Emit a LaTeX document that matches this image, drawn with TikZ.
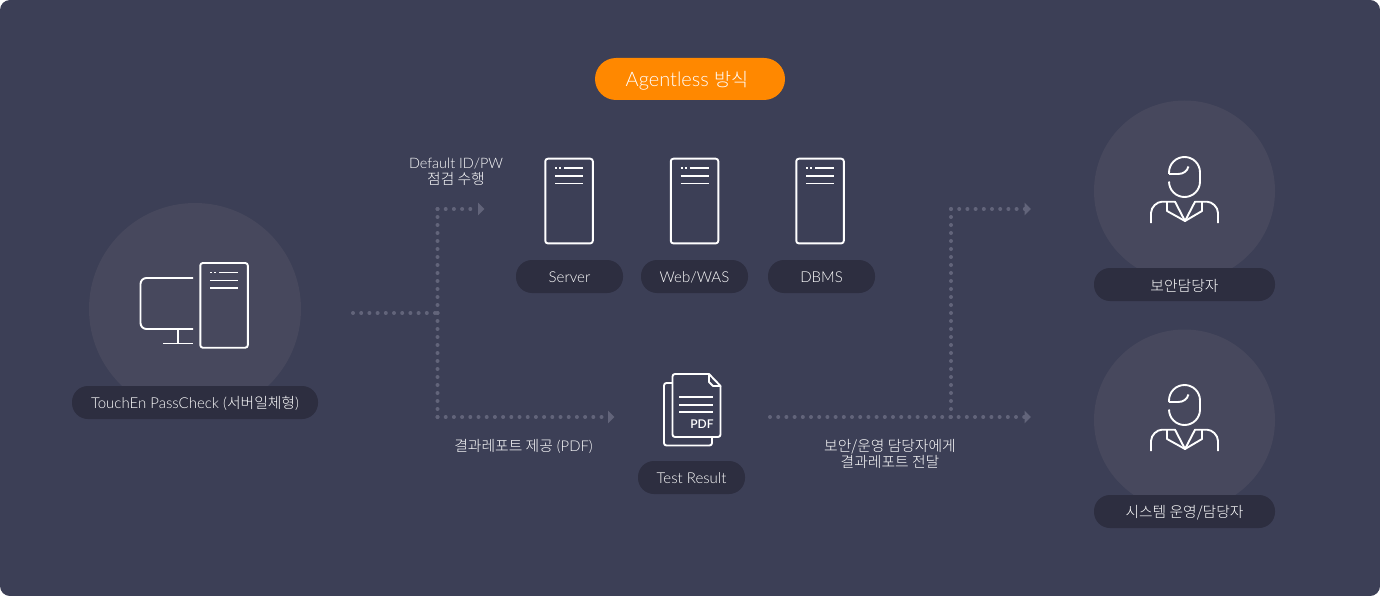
\documentclass[tikz,border=0pt]{standalone}
\usepackage{fontspec}
\usetikzlibrary{arrows.meta}
\setmainfont{Lato Light}
\newfontfamily\krfont{Noto Sans CJK KR Light}
\definecolor{bgc}{HTML}{3C3F56}
\definecolor{circc}{HTML}{47485D}
\definecolor{pillc}{HTML}{2D2E40}
\definecolor{dotc}{HTML}{62647A}
\definecolor{orangec}{HTML}{FF8800}
\newcommand{\lowertext}[2][1pt]{\raisebox{-#1}[\height][\depth]{#2}}
\tikzset{
  halo/.style={circle,fill=circc,draw=none,inner sep=0pt},
  pill/.style={rounded corners=16pt,fill=pillc,draw=none,inner sep=0pt,text=white,font=\fontsize{15}{17}\selectfont},
  krpill/.style={pill,font=\krfont\fontsize{14.8}{17}\selectfont},
  caption/.style={text=white,align=center,inner sep=0pt,font=\fontsize{14.8}{16}\selectfont},
  icon/.style={draw=white,line width=1.9pt,line join=round},
  dotline/.style={draw=dotc,line width=4pt,line cap=round},
  dotsh/.style={dotline,dash pattern=on 0pt off 8.2pt},
  dotsv/.style={dotline,dash pattern=on 0pt off 8pt},
  tip/.style={-{Triangle[length=6.5pt,width=12.5pt,color=dotc]}},
  pics/tower/.style={code={
    \draw[icon,rounded corners=2.5pt] (0,0) rectangle (47.5,84.7);
    \draw[icon,line width=1.6pt] (9.7,9.3) -- (11.7,9.3) (13.7,9.3) -- (15.7,9.3) (18.7,9.3) -- (37.7,9.3)
      (9.7,17.3) -- (37.7,17.3) (9.7,24.8) -- (37.7,24.8);
  }},
  pics/person/.style={code={
    \draw[icon] (0,17) -- (0,15.5) .. controls (0,6.9) and (6.9,0) .. (15.5,0)
      .. controls (24.1,0) and (31,6.9) .. (31,15.5) -- (31,24.5)
      .. controls (31,33.1) and (24.1,40) .. (15.5,40)
      .. controls (6.9,40) and (0,33.1) .. (0,24.5);
    \draw[icon] (0,17) -- (9,17) .. controls (14,17) and (18,14.5) .. (19.5,9.5);
    \draw[icon] (-18,66) -- (-18,56) .. controls (-18,50) and (-12,44.7) .. (-7,44.7) -- (6,44.7) -- (16,64) -- (26,44.7)
      -- (38,44.7) .. controls (43,44.7) and (49,50) .. (49,56) -- (49,66);
    \draw[icon] (-2,44.7) -- (-2,54) -- (16,64) -- (33,54) -- (33,44.7);
  }}
}
\begin{document}
\begin{tikzpicture}[x=1pt,y=-1pt]
\useasboundingbox (0,0) rectangle (1380,596);
\fill[white] (0,0) rectangle (1380,596);
\fill[bgc,rounded corners=10pt] (0,0) rectangle (1380,596);

% halos
\node[halo,minimum size=212pt] (hostc) at (195,309) {};
\node[halo,minimum size=181pt] (secc) at (1184.5,191) {};
\node[halo,minimum size=181pt] (opsc) at (1184.5,420) {};

% title
\node[pill,rounded corners=21pt,fill=orangec,minimum width=190pt,minimum height=42pt,font=\fontsize{20}{22}\selectfont] (title) at (690,79) {\hspace*{-3pt}\lowertext[1.5pt]{Agentless {\krfont\fontsize{18.5}{22}\selectfont 방식}}\hspace*{3pt}};

% pills
\node[pill,minimum width=246pt,minimum height=33pt] (host) at (195,402.5) {\lowertext{TouchEn PassCheck ({\krfont\fontsize{14.8}{17}\selectfont 서버일체형})}};
\node[pill,minimum width=107pt,minimum height=33pt] (server) at (569.5,276.5) {\lowertext{Server}};
\node[pill,minimum width=107pt,minimum height=33pt] (web) at (694.5,276.5) {\lowertext{Web/WAS}};
\node[pill,minimum width=107pt,minimum height=33pt] (dbms) at (821.5,276.5) {\lowertext{DBMS}};
\node[pill,minimum width=107pt,minimum height=33pt] (result) at (691.5,477.5) {\lowertext{Test Result}};
\node[krpill,minimum width=181pt,minimum height=33pt] (sec) at (1184.5,284.5) {\lowertext{보안담당자}};
\node[krpill,minimum width=181pt,minimum height=33pt] (ops) at (1184.5,511.5) {\lowertext{시스템 운영/담당자}};

% captions
\node[caption] (capa) at (456,172) {{\fontsize{14.4}{16}\selectfont Default ID/PW}\\[0pt]{\krfont 점검 수행}};
\node[caption] (capb) at (523.5,446) {{\krfont 결과레포트 제공} (PDF)};
\node[caption] (capc) at (890,454) {{\krfont 보안/운영 담당자에게}\\[0pt]{\krfont 결과레포트 전달}};

% connectors
\coordinate (start) at (353,313);
\coordinate (junction) at (437.5,313);
\coordinate (upcorner) at (437.5,209);
\coordinate (uptip) at (484.5,209);
\coordinate (downcorner) at (437.5,417);
\coordinate (downtip) at (614.5,417);
\coordinate (repstart) at (770,417);
\coordinate (repjoin) at (951,417);
\coordinate (repcorner) at (951,209);
\coordinate (reptipa) at (1031,209);
\coordinate (reptipb) at (1031,417);
\draw[dotsh] (start) -- (junction);
\draw[dotsv] (junction) -- (upcorner);
\draw[dotsh,tip] (upcorner) -- (uptip);
\draw[dotsv] (junction) -- (downcorner);
\draw[dotsh,tip] (downcorner) -- (downtip);
\draw[dotsh,tip] (repstart) -- (reptipb);
\draw[dotsv] (repjoin) -- (repcorner);
\draw[dotsh,tip] (repcorner) -- (reptipa);

% PC icon
\draw[icon,rounded corners=6pt] (193,278) -- (140.5,278) -- (140.5,329) -- (193,329);
\draw[icon] (178,329) -- (178,343.5) (163,343.5) -- (193,343.5);
\pic at (200.3,263) {tower};
% server icons
\pic at (545.3,158.7) {tower};
\pic at (670.8,158.7) {tower};
\pic at (796.3,158.7) {tower};

% PDF icon
\draw[icon,rounded corners=2.5pt] (672,383) -- (664,383) -- (664,445.5) -- (712,445.5) -- (712,437);
\draw[icon,rounded corners=2.5pt] (709,374) -- (672.5,374) -- (672.5,437) -- (720.5,437) -- (720.5,386);
\draw[icon] (709,374) -- (720.5,386) -- (713,386) -- (709,382) -- cycle;
\draw[icon,line width=1.6pt] (679,397) -- (713,397) (679,405) -- (713,405) (679,412) -- (713,412);
\node[text=white,inner sep=0pt,font=\fontsize{12}{14}\selectfont\bfseries] (pdf) at (702,424.5) {PDF};

% people
\pic at (1169,157) {person};
\pic at (1169,385) {person};
\end{tikzpicture}
\end{document}
